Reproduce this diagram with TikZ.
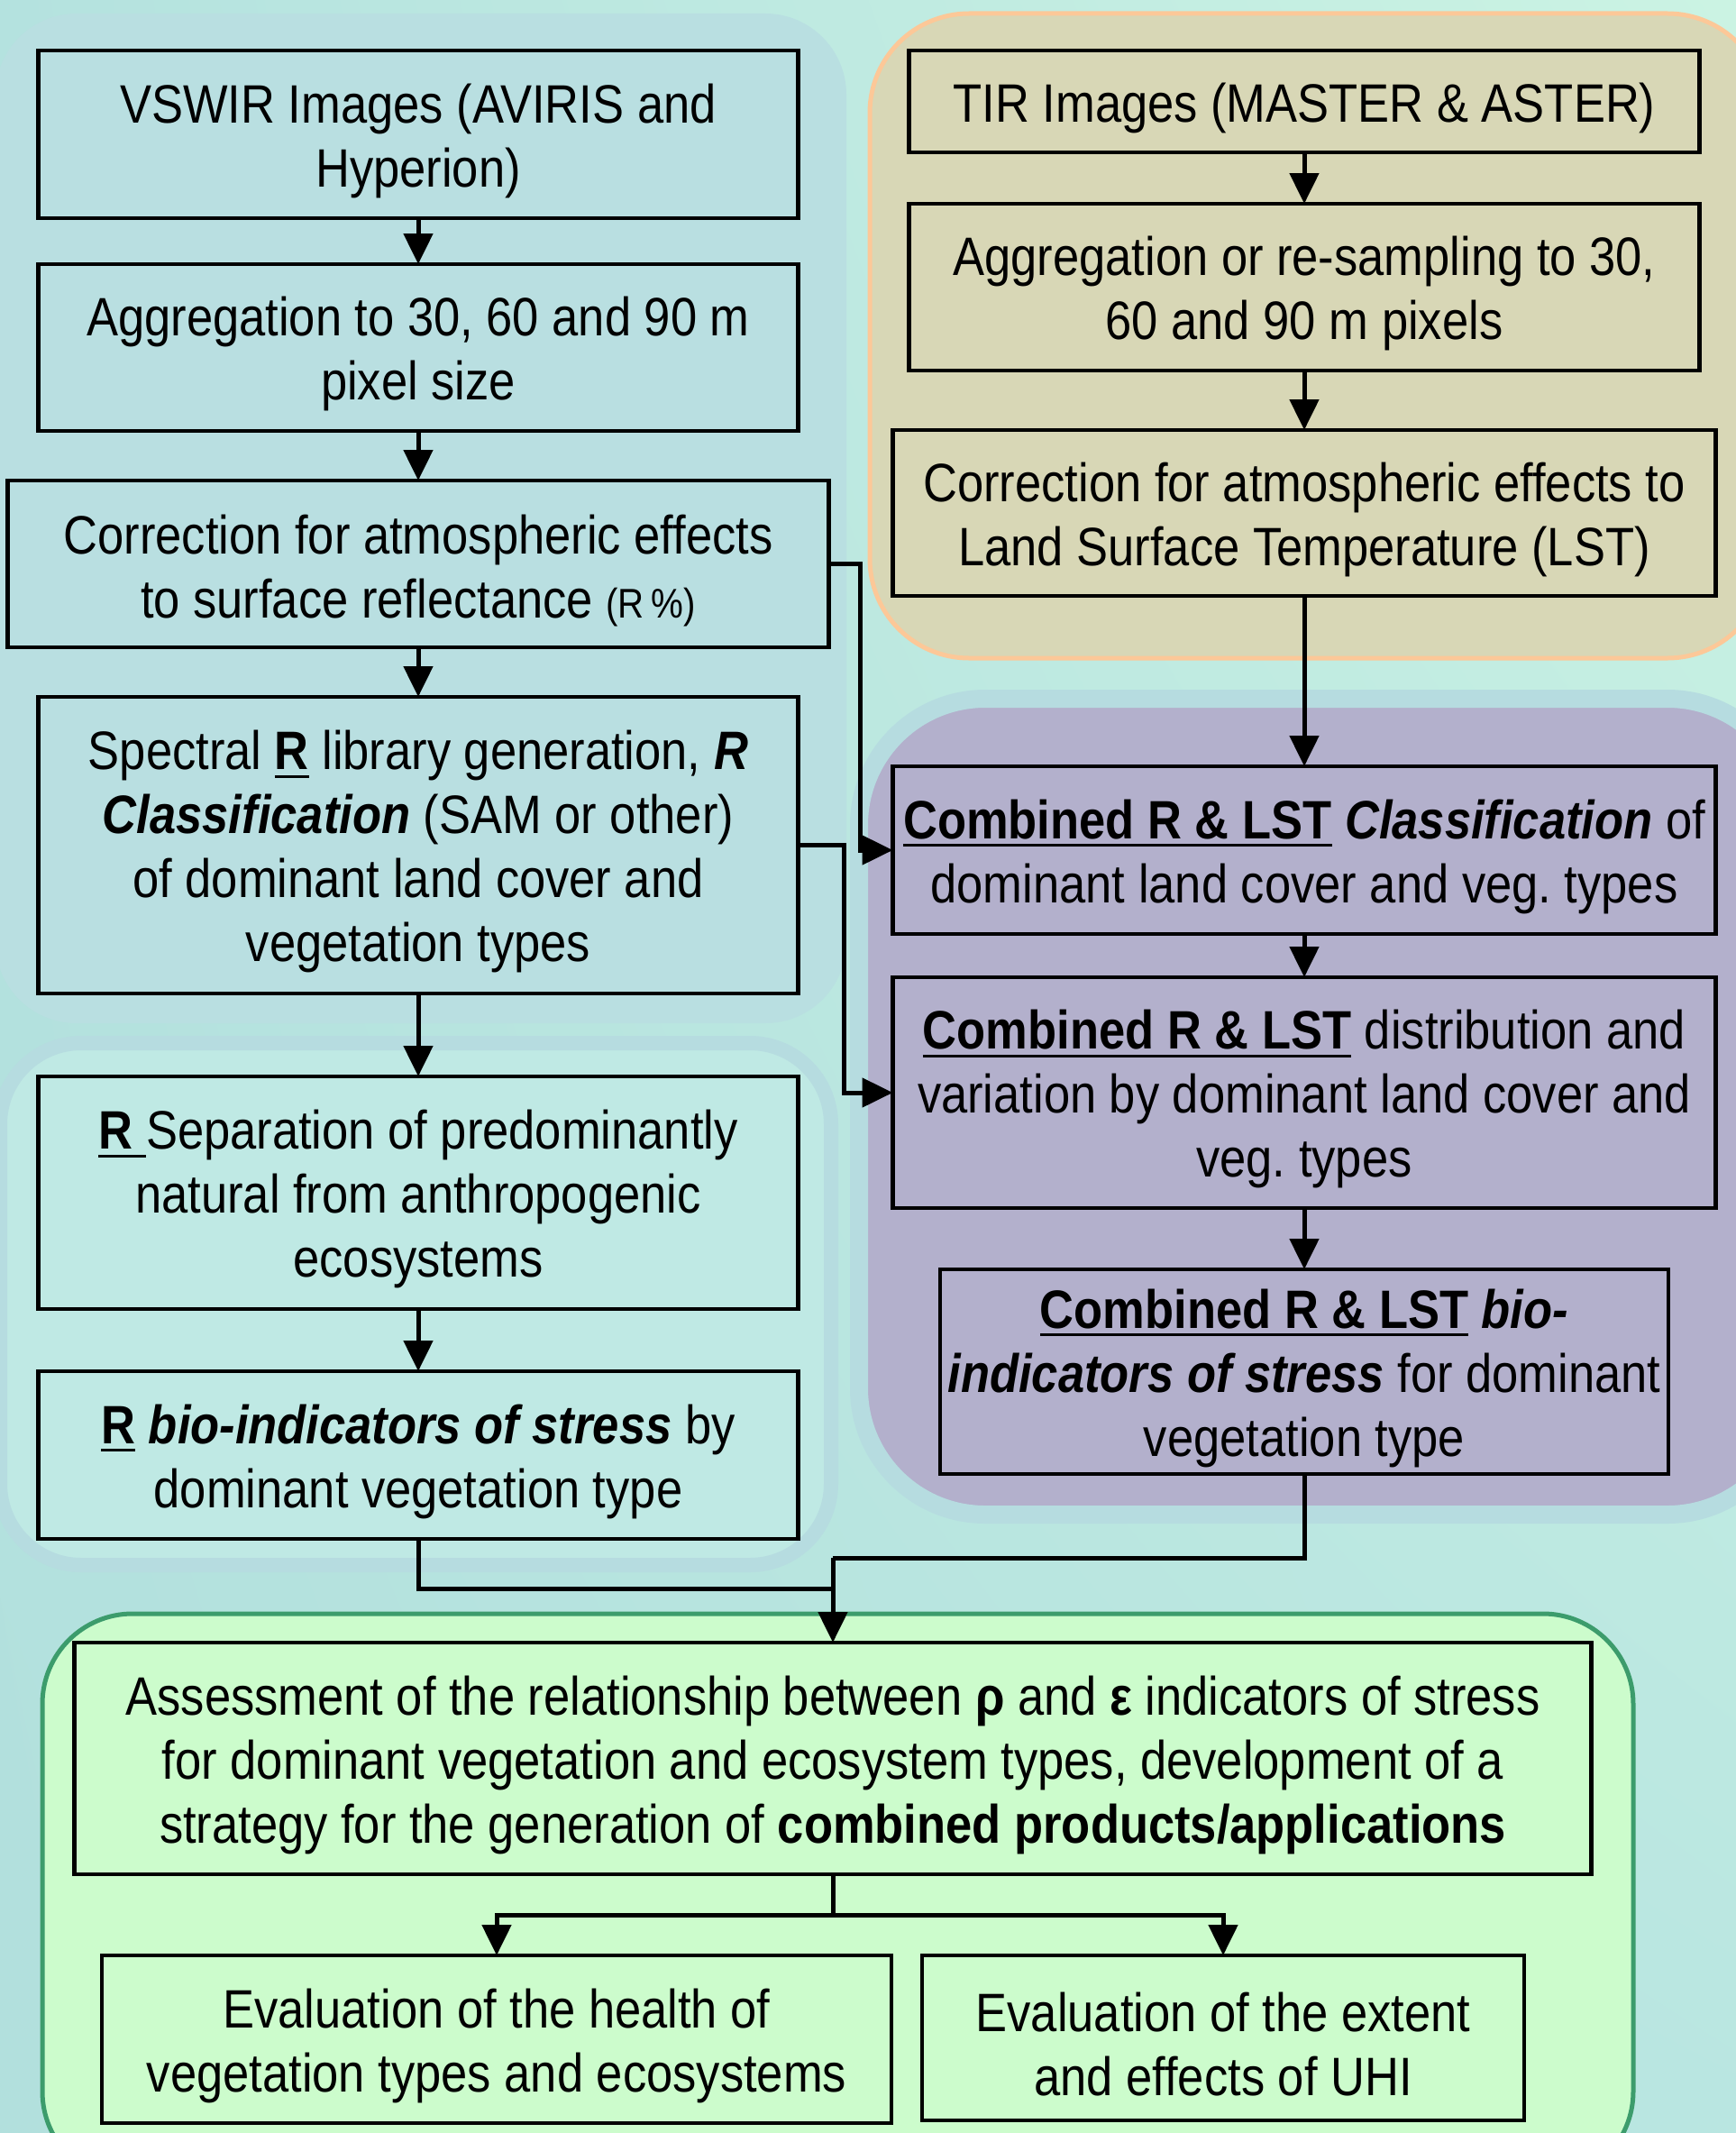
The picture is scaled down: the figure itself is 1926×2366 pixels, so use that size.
\documentclass[tikz,border=0pt]{standalone}
\usepackage{fontspec}
\setmainfont{Liberation Sans}[FakeStretch=0.875]
\usetikzlibrary{arrows.meta, positioning, calc, shadings}

\newsavebox{\ulwordbox}
\newcommand{\ulword}[1]{\sbox{\ulwordbox}{#1}\rlap{\rule[-9pt]{\wd\ulwordbox}{3pt}}\usebox{\ulwordbox}}
\newcommand{\dropline}{\rule{0pt}{58pt}}
\frenchspacing

\definecolor{bgtl}{HTML}{B4E2DF}
\definecolor{bgtr}{HTML}{CBF3E3}
\definecolor{bgbl}{HTML}{B2E0DD}
\definecolor{bgbr}{HTML}{B9E6E1}
\definecolor{vswirfill}{HTML}{B9DFE1}
\definecolor{sepfill}{HTML}{BFE9E4}
\definecolor{paneledge}{HTML}{B6DCE0}
\definecolor{tirfill}{HTML}{D8D7B6}
\definecolor{tiredge}{HTML}{FCC898}
\definecolor{combfill}{HTML}{B3B0CC}
\definecolor{outfill}{HTML}{CCFCCC}
\definecolor{outedge}{HTML}{3C9C6C}

\begin{document}
\begin{tikzpicture}[
  x=1pt, y=-1pt,
  font=\fontsize{60}{71}\selectfont,
  block/.style = {draw, line width=4.5pt, inner sep=0pt, outer sep=0pt, align=center},
  leftbox/.style = {block, minimum width=843pt},
  rightbox/.style = {block, minimum width=913pt},
  line/.style = {line width=5pt},
  arrow/.style = {line, -{Triangle[length=34pt, width=32pt]}}
]

  \useasboundingbox (0,0) rectangle (1926,2366);

  % Background and panels
  \shade[upper left=bgtl, upper right=bgtr, lower left=bgbl, lower right=bgbr]
    (0,0) rectangle (1926,2366);
  \fill[vswirfill, rounded corners=90pt] (-5,15) rectangle (939,1135);
  \draw[paneledge, fill=sepfill, line width=16pt, rounded corners=90pt] (0,1157) rectangle (922,1736);
  \draw[tiredge, fill=tirfill, line width=5pt, rounded corners=110pt] (965,15) rectangle (1960,730);
  \draw[paneledge, fill=combfill, line width=20pt, rounded corners=140pt] (953,775) rectangle (1990,1680);
  \draw[outedge, fill=outfill, line width=5pt, rounded corners=100pt] (47,1790) rectangle (1812,2420);

  % VSWIR branch
  \node[leftbox, minimum height=186pt, anchor=north] (vswir) at (464,56)
    {\dropline VSWIR Images (AVIRIS and\\Hyperion)};
  \node[leftbox, minimum height=185pt, below=51pt of vswir] (aggv)
    {\dropline Aggregation to 30, 60 and 90 m\\pixel size};
  \node[block, minimum width=911pt, minimum height=185pt, below=55pt of aggv] (corrv)
    {\dropline Correction for atmospheric effects\\to surface reflectance {\fontsize{46}{71}\selectfont(R\,\%)}};
  \node[leftbox, minimum height=329pt, below=55pt of corrv] (spec)
    {\dropline Spectral \ulword{\textbf{R}} library generation, \textbf{\textit{R}}\\
     \textbf{\textit{Classification}} (SAM or other)\\of dominant land cover and\\vegetation types};
  \node[leftbox, minimum height=258pt, below=92pt of spec] (sep)
    {\dropline\ulword{\textbf{R}\hspace{0.25em}}Separation of predominantly\\natural from anthropogenic\\ecosystems};
  \node[leftbox, minimum height=186pt, below=69pt of sep] (rbio)
    {\dropline\ulword{\textbf{R}} \textbf{\textit{bio-indicators of stress}} by\\dominant vegetation type};

  % TIR branch
  \node[block, minimum width=877pt, minimum height=113pt, anchor=north] (tir) at (1447,56)
    {\dropline TIR Images (MASTER \& ASTER)};
  \node[block, minimum width=877pt, minimum height=185pt, below=57pt of tir] (aggt)
    {\dropline Aggregation or re-sampling to 30,\\60 and 90 m pixels};
  \node[rightbox, minimum height=184pt, below=66pt of aggt] (corrt)
    {\dropline Correction for atmospheric effects to\\Land Surface Temperature (LST)};

  % Combined R & LST
  \node[rightbox, minimum height=186pt, below=189pt of corrt] (comcls)
    {\dropline\ulword{\textbf{Combined R \& LST}} \textbf{\textit{Classification}} of\\dominant land cover and veg. types};
  \node[rightbox, minimum height=256pt, below=48pt of comcls] (comdist)
    {\dropline\ulword{\textbf{Combined R \& LST}} distribution and\\variation by dominant land cover and\\veg. types};
  \node[block, minimum width=808pt, minimum height=227pt, below=68pt of comdist] (combio)
    {\dropline\ulword{\textbf{Combined R \& LST}} \textbf{\textit{bio-}}\\
     \textbf{\textit{indicators of stress}} for dominant\\vegetation type};

  % Products
  \node[block, minimum width=1683pt, minimum height=257pt, anchor=north] (assess) at (924,1822)
    {\dropline Assessment of the relationship between \textbf{ρ} and \textbf{ε} indicators of stress\\
     for dominant vegetation and ecosystem types, development of a\\
     strategy for the generation of \textbf{combined products/applications}};
  \node[block, minimum width=876pt, minimum height=186pt, anchor=north] (evalveg) at (551,2169)
    {\dropline Evaluation of the health of\\vegetation types and ecosystems};
  \node[block, minimum width=668pt, minimum height=183pt, anchor=north] (evaluhi) at (1357,2169)
    {\dropline Evaluation of the extent\\and effects of UHI};

  % Connectors
  \draw[arrow] (vswir) -- (aggv);
  \draw[arrow] (aggv) -- (corrv);
  \draw[arrow] (corrv) -- (spec);
  \draw[arrow] (spec) -- (sep);
  \draw[arrow] (sep) -- (rbio);
  \draw[arrow] (tir) -- (aggt);
  \draw[arrow] (aggt) -- (corrt);
  \draw[arrow] (corrt) -- (comcls);
  \draw[arrow] (comcls) -- (comdist);
  \draw[arrow] (comdist) -- (combio);
  \draw[arrow] (corrv.east) -- ++(35,0) |- (comcls.west);
  \draw[arrow] (spec.east) -- ++(51,0) |- (comdist.west);

  \coordinate (merge) at ($(assess.north)+(0,-94)$);
  \coordinate (split) at ($(assess.south)+(0,45)$);
  \draw[line] (rbio.south) -- ++(0,55) -| (merge);
  \draw[line] (combio.south) |- (merge);
  \draw[arrow] (merge) -- (assess.north);
  \draw[line] (assess.south) -- (split);
  \draw[arrow] (split) -| (evalveg.north);
  \draw[arrow] (split) -| (evaluhi.north);

\end{tikzpicture}
\end{document}
